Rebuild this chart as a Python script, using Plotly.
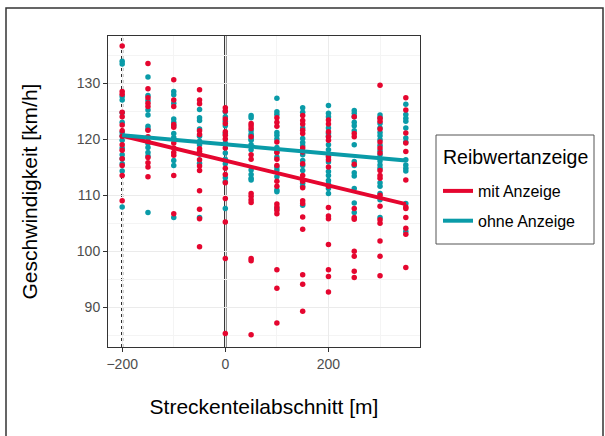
import plotly.graph_objects as go

# Streckenteilabschnitt positions [m]
sections = [-200, -150, -100, -50, 0, 50, 100, 150, 200, 250, 300, 350]

# Geschwindigkeit [km/h] per section, "mit Anzeige"
mit_values = [
    [136.6, 128.5, 128.0, 124.8, 124.0, 122.5, 121.5, 120.5, 119.0, 118.0, 116.5, 115.3, 113.5, 109.0],
    [133.5, 129.0, 127.4, 126.4, 125.8, 121.6, 120.4, 119.6, 116.7, 115.8, 115.0, 113.3],
    [130.6, 127.0, 125.8, 122.6, 122.1, 119.3, 118.4, 117.6, 117.1, 113.5, 106.7],
    [128.8, 127.0, 126.3, 121.5, 120.8, 118.3, 117.8, 116.3, 115.2, 114.4, 110.8, 107.5, 105.8, 100.8],
    [125.6, 125.0, 123.6, 122.8, 121.3, 120.7, 120.0, 118.4, 114.8, 113.7, 112.2, 109.4, 105.2, 98.7, 85.3],
    [122.8, 122.4, 121.9, 120.4, 117.2, 116.4, 110.3, 109.8, 109.2, 108.7, 98.7, 98.3, 85.1],
    [123.8, 123.0, 122.3, 119.5, 117.6, 116.4, 115.3, 112.5, 111.6, 108.4, 107.9, 107.3, 106.7, 96.7, 93.4, 87.2],
    [124.2, 123.3, 122.7, 121.6, 121.0, 118.4, 117.7, 115.6, 113.5, 112.5, 111.3, 109.0, 108.5, 106.1, 103.9, 95.8, 94.1, 89.3],
    [123.4, 122.7, 121.3, 120.4, 119.8, 117.0, 116.3, 115.0, 111.6, 107.8, 106.3, 105.8, 101.2, 96.7, 95.5, 92.7],
    [124.0, 121.0, 120.4, 115.5, 107.6, 106.0, 105.7, 100.0, 99.1, 96.4, 95.3],
    [129.6, 123.7, 123.2, 121.8, 119.5, 118.4, 117.5, 114.4, 113.5, 113.0, 110.0, 108.0, 105.6, 105.0, 101.8, 99.1, 95.6],
    [127.4, 125.2, 121.1, 119.3, 117.8, 112.7, 107.9, 107.6, 106.0, 104.1, 103.0, 97.1],
]

# Geschwindigkeit [km/h] per section, "ohne Anzeige"
ohne_values = [
    [133.9, 133.4, 127.6, 127.0, 124.7, 123.0, 121.2, 120.6, 119.8, 118.4, 117.2, 116.5, 115.6, 114.3, 107.9],
    [131.1, 127.8, 126.9, 125.2, 124.3, 122.3, 121.8, 119.2, 118.5, 117.6, 117.0, 106.9],
    [128.5, 127.9, 126.4, 123.6, 123.0, 122.4, 121.0, 120.3, 116.2, 115.3, 106.0],
    [125.3, 123.8, 123.3, 121.8, 120.5, 119.6, 119.0, 117.3, 115.7, 106.0],
    [124.9, 124.0, 123.2, 122.4, 121.0, 119.3, 117.5, 116.4, 115.6, 113.1, 112.4, 107.6],
    [124.2, 123.8, 121.5, 120.9, 120.6, 120.0, 119.8, 119.0, 118.1, 114.5, 113.7, 113.0, 112.7],
    [127.3, 124.9, 124.4, 121.2, 120.7, 120.0, 118.5, 117.7, 116.8, 115.0, 114.5, 113.3, 110.9, 110.6, 107.6],
    [125.6, 124.8, 122.0, 120.1, 119.4, 118.8, 117.2, 116.2, 115.3, 114.4, 112.1, 111.6, 108.2],
    [126.0, 124.6, 124.0, 122.0, 121.0, 120.5, 119.0, 118.1, 116.8, 115.9, 114.2, 113.5, 112.6, 112.0, 111.2, 110.3],
    [125.1, 124.6, 124.0, 123.0, 122.4, 121.5, 119.0, 116.0, 115.3, 114.0, 113.4, 111.2, 108.6, 106.9],
    [124.3, 123.8, 122.8, 122.0, 121.2, 120.6, 119.9, 118.9, 117.9, 117.2, 116.1, 115.4, 114.8, 112.2, 111.6, 110.3, 109.2, 106.0],
    [126.2, 124.4, 123.7, 123.2, 122.0, 120.2, 119.5, 116.3, 115.4, 114.8, 114.3, 108.5, 103.5],
]

# Linear trend lines
fit_x = [-200, 350]
mit_fit = [120.6, 108.4]
ohne_fit = [120.7, 116.2]

# Reference lines: start of section (dotted) and sign position (solid)
start_line = -200
sign_line = 0

legend_title = "Reibwertanzeige"

RED = "#E5062F"
TEAL = "#0A9BA8"
FONT = "Liberation Sans, Arial, sans-serif"


def flatten(values):
    xs, ys = [], []
    for s, vals in zip(sections, values):
        xs += [s] * len(vals)
        ys += vals
    return xs, ys


fig = go.Figure()

ox, oy = flatten(ohne_values)
mx, my = flatten(mit_values)

fig.add_trace(go.Scatter(x=ox, y=oy, mode="markers", marker=dict(color=TEAL, size=5.5),
                         showlegend=False, hoverinfo="skip"))
fig.add_trace(go.Scatter(x=mx, y=my, mode="markers", marker=dict(color=RED, size=5.5),
                         showlegend=False, hoverinfo="skip"))

fig.add_trace(go.Scatter(x=fit_x, y=mit_fit, mode="lines", name="mit Anzeige",
                         line=dict(color=RED, width=4), legendgroup="a"))
fig.add_trace(go.Scatter(x=fit_x, y=ohne_fit, mode="lines", name="ohne Anzeige",
                         line=dict(color=TEAL, width=4), legendgroup="b"))

fig.add_shape(type="line", xref="x", yref="paper", x0=start_line, x1=start_line, y0=0, y1=1,
              line=dict(color="black", width=2, dash="dot"), layer="between")
fig.add_shape(type="line", xref="x", yref="paper", x0=sign_line, x1=sign_line, y0=0, y1=1,
              line=dict(color="black", width=2.2), layer="between")

# Pixel layout helpers
L, R, T, B = 108, 420, 36, 347
W, H = 605, 436
pw, ph = R - L, B - T


def px(xp):
    return (xp - L) / pw


def py(yp):
    return (B - yp) / ph


# Outer figure frame
fig.add_shape(type="rect", xref="paper", yref="paper",
              x0=px(6), x1=px(603), y0=py(445), y1=py(8),
              line=dict(color="#333333", width=1.5), fillcolor="rgba(0,0,0,0)", layer="above")

# Legend box and title
fig.add_shape(type="rect", xref="paper", yref="paper",
              x0=px(436), x1=px(594), y0=py(244), y1=py(135),
              line=dict(color="#555555", width=1), fillcolor="white", layer="above")
fig.add_annotation(xref="paper", yref="paper", x=px(441), y=py(157),
                   xanchor="left", yanchor="middle", showarrow=False,
                   text=legend_title, font=dict(size=19.5, color="black"))

fig.update_layout(
    width=W, height=H,
    margin=dict(l=L, r=W - R, t=T, b=H - B, autoexpand=False),
    paper_bgcolor="white", plot_bgcolor="white",
    font=dict(family=FONT, color="black"),
    xaxis=dict(
        range=[-227.5, 377.5], tick0=0, dtick=200,
        showgrid=True, gridcolor="#EBEBEB", gridwidth=1.2,
        minor=dict(dtick=100, showgrid=True, gridcolor="#F4F4F4", gridwidth=0.8),
        zeroline=False, showline=True, linecolor="#333333", linewidth=1, mirror=True,
        ticks="outside", ticklen=4, tickcolor="#333333", tickwidth=1,
        tickfont=dict(size=14, color="#4D4D4D"),
        title=dict(text="Streckenteilabschnitt [m]", font=dict(size=21, color="black"), standoff=28),
    ),
    yaxis=dict(
        range=[82.9, 138.4], tick0=0, dtick=10,
        showgrid=True, gridcolor="#EBEBEB", gridwidth=1.2,
        minor=dict(dtick=5, showgrid=True, gridcolor="#F4F4F4", gridwidth=0.8),
        zeroline=False, showline=True, linecolor="#333333", linewidth=1, mirror=True,
        ticks="outside", ticklen=4, tickcolor="#333333", tickwidth=1,
        tickfont=dict(size=14, color="#4D4D4D"),
        title=dict(text="Geschwindigkeit [km/h]", font=dict(size=21, color="black"), standoff=33),
    ),
    legend=dict(
        x=px(438), y=py(174), xanchor="left", yanchor="top",
        borderwidth=0, bgcolor="rgba(0,0,0,0)",
        font=dict(size=16), tracegroupgap=6, traceorder="grouped",
        itemwidth=30,
    ),
)

fig.write_html("out.html")
